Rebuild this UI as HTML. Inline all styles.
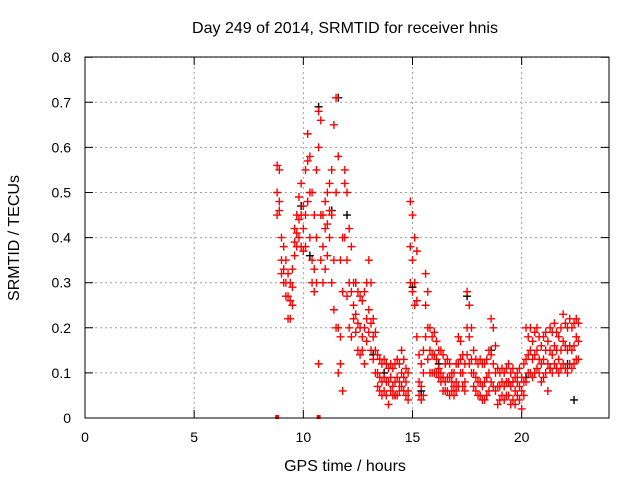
<!DOCTYPE html>
<html><head><meta charset="utf-8"><style>
body{margin:0;background:#fff}
svg text{font-family:"Liberation Sans",sans-serif;font-size:14px;fill:#000}
svg text.big{font-size:16px}
</style></head><body>
<svg id="c" width="640" height="480">
<rect width="640" height="480" fill="#fff"/>
<text class="big" x="345" y="33" text-anchor="middle">Day 249 of 2014, SRMTID for receiver hnis</text>
<text class="big" x="345" y="471" text-anchor="middle">GPS time / hours</text>
<text class="big" transform="translate(19,238) rotate(-90)" text-anchor="middle">SRMTID / TECUs</text>
<g id="grid"></g>
<g id="ticks"></g>
<g id="marks"></g>
<rect x="85" y="57" width="524" height="361" fill="none" stroke="#000"/>
</svg>
<script>
const xTicks=[0,5,10,15,20];
const yTicks=[0,0.1,0.2,0.3,0.4,0.5,0.6,0.7,0.8];
const yTickLabels=["0","0.1","0.2","0.3","0.4","0.5","0.6","0.7","0.8"];
const redStart=8.8, redStep=0.1;
const redHi=[0.56,0.55,0.40,0.38,0.35,0.32,0.30,0.33,0.42,0.45,0.49,0.52,0.47,0.55,0.63,0.58,0.50,0.45,0.55,0.68,0.66,0.45,0.48,0.50,0.52,0.55,0.65,0.71,0.58,0.35,0.40,0.55,0.50,0.42,0.38,0.30,0.30,0.28,0.27,0.26,0.28,0.30,0.35,0.30,0.22,0.19,0.14,0.13,0.12,0.13,0.12,0.11,0.12,0.11,0.12,0.13,0.12,0.15,0.13,0.11,0.10,0.48,0.45,0.40,0.37,0.14,0.12,0.15,0.32,0.28,0.20,0.18,0.19,0.17,0.15,0.15,0.14,0.12,0.13,0.12,0.10,0.10,0.12,0.18,0.17,0.14,0.12,0.28,0.25,0.20,0.15,0.13,0.12,0.13,0.12,0.12,0.13,0.15,0.22,0.20,0.16,0.11,0.10,0.11,0.10,0.11,0.12,0.10,0.11,0.09,0.10,0.11,0.09,0.12,0.20,0.18,0.20,0.17,0.19,0.20,0.18,0.16,0.18,0.19,0.17,0.20,0.19,0.21,0.19,0.18,0.20,0.23,0.21,0.20,0.22,0.20,0.21,0.22,0.21];
const redMid=[0.50,0.48,0.35,0.33,0.30,0.27,0.26,0.29,0.39,0.41,0.44,0.45,0.42,0.45,0.57,0.50,0.35,0.33,0.40,0.60,0.45,0.38,0.42,0.43,0.46,0.45,0.35,0.50,0.20,0.18,0.28,0.52,0.35,0.30,0.28,0.25,0.23,0.21,0.20,0.18,0.20,0.22,0.24,0.21,0.18,0.15,0.10,0.09,0.08,0.09,0.08,0.08,0.09,0.07,0.08,0.09,0.08,0.10,0.09,0.08,0.06,0.38,0.35,0.30,0.26,0.08,0.07,0.10,0.25,0.20,0.15,0.14,0.14,0.13,0.11,0.10,0.09,0.08,0.09,0.09,0.08,0.07,0.08,0.12,0.13,0.10,0.08,0.20,0.18,0.13,0.10,0.09,0.08,0.08,0.07,0.08,0.09,0.10,0.14,0.12,0.10,0.07,0.07,0.08,0.07,0.08,0.08,0.07,0.08,0.06,0.08,0.07,0.06,0.08,0.13,0.14,0.15,0.13,0.14,0.15,0.13,0.12,0.13,0.15,0.12,0.15,0.14,0.16,0.15,0.13,0.15,0.17,0.16,0.15,0.16,0.15,0.16,0.18,0.17];
const redLo=[0.45,0.46,0.32,0.30,0.27,0.22,0.22,0.25,0.36,0.38,0.40,0.38,0.37,0.38,0.48,0.40,0.30,0.28,0.30,0.12,0.35,0.30,0.33,0.36,0.40,0.30,0.24,0.20,0.10,0.12,0.06,0.40,0.27,0.20,0.18,0.22,0.19,0.15,0.14,0.15,0.12,0.17,0.19,0.15,0.13,0.10,0.07,0.06,0.05,0.06,0.05,0.03,0.06,0.05,0.05,0.05,0.06,0.07,0.06,0.05,0.04,0.30,0.28,0.25,0.18,0.05,0.04,0.05,0.18,0.13,0.10,0.10,0.10,0.10,0.09,0.08,0.06,0.06,0.06,0.05,0.06,0.05,0.06,0.07,0.10,0.07,0.06,0.14,0.12,0.10,0.07,0.06,0.05,0.05,0.04,0.04,0.05,0.06,0.08,0.07,0.06,0.03,0.04,0.05,0.04,0.05,0.05,0.03,0.04,0.03,0.05,0.04,0.02,0.05,0.08,0.10,0.10,0.09,0.10,0.11,0.10,0.08,0.09,0.10,0.06,0.11,0.10,0.12,0.11,0.10,0.11,0.12,0.11,0.10,0.12,0.11,0.12,0.13,0.13];
const blackT=[9.9,10.3,10.7,11.3,11.6,12.0,12.4,13.2,13.7,14.2,15.0,15.4,16.2,17.5,18.6,19.4,20.2,21.3,22.1,22.4];
const blackV=[0.47,0.36,0.69,0.46,0.71,0.45,0.30,0.14,0.10,0.05,0.29,0.06,0.12,0.27,0.15,0.08,0.09,0.11,0.12,0.04];
const zeroT=[8.8,10.7];

const X=t=>85+t*524/24, Y=v=>418-v*451;
const NS="http://www.w3.org/2000/svg";
function mk(tag,parent){const e=document.createElementNS(NS,tag);document.getElementById(parent).appendChild(e);return e;}
xTicks.forEach(t=>{
  const g=mk('line','grid');g.setAttribute('x1',X(t));g.setAttribute('x2',X(t));g.setAttribute('y1',57);g.setAttribute('y2',418);
  g.setAttribute('stroke','#a0a0a0');g.setAttribute('stroke-dasharray','2,3');
  
  
  const tk=mk('path','ticks');tk.setAttribute('d',`M${X(t)} 418v-8M${X(t)} 57v8`);tk.setAttribute('stroke','#000');
  
  
  const l=mk('text','ticks');l.textContent=t;l.setAttribute('x',X(t));l.setAttribute('y',442);l.setAttribute('text-anchor','middle');
  
  
});
yTicks.forEach((v,i)=>{
  const g=mk('line','grid');g.setAttribute('x1',85);g.setAttribute('x2',609);g.setAttribute('y1',Y(v));g.setAttribute('y2',Y(v));
  g.setAttribute('stroke','#a0a0a0');g.setAttribute('stroke-dasharray','2,3');
  
  
  const tk=mk('path','ticks');tk.setAttribute('d',`M85 ${Y(v)}h8M609 ${Y(v)}h-8`);tk.setAttribute('stroke','#000');
  
  
  const l=mk('text','ticks');l.textContent=yTickLabels[i];l.setAttribute('x',71);l.setAttribute('y',Y(v)+5);l.setAttribute('text-anchor','end');
  
  
});
function plus(t,v,col,name){
  const p=mk('path','marks');p.setAttribute('d',`M${X(t)-4} ${Y(v)}h8M${X(t)} ${Y(v)-4}v8`);
  p.setAttribute('stroke',col);p.setAttribute('stroke-width','1.4');
  
  
}
blackT.forEach((t,i)=>plus(t,blackV[i],'#000','black-point'));
[redHi,redMid,redLo].forEach(arr=>arr.forEach((v,i)=>plus(redStart+i*redStep,v,'#f00','red-point')));
zeroT.forEach(t=>{const r=mk('rect','marks');r.setAttribute('x',X(t)-2);r.setAttribute('y',415);r.setAttribute('width',4);r.setAttribute('height',4);r.setAttribute('fill','#f00');
  
  });
</script>
</body></html>
